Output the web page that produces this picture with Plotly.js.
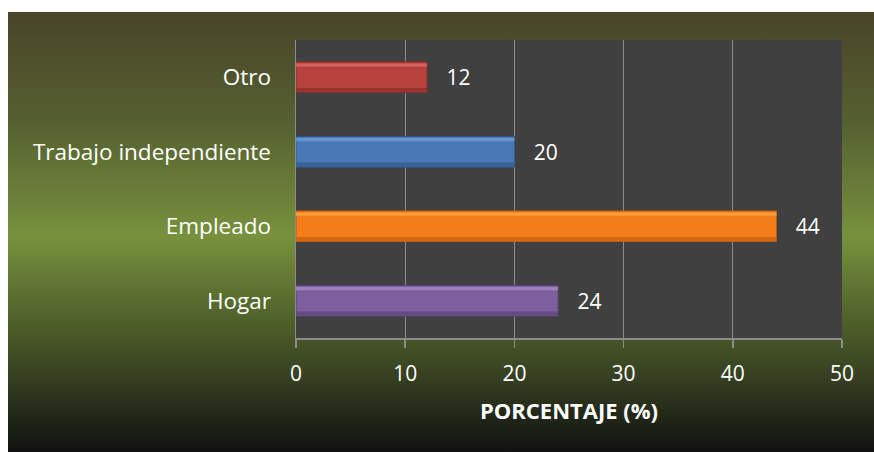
<!DOCTYPE html>
<html>
<head>
<meta charset="utf-8">
<script src="https://cdn.plot.ly/plotly-3.0.1.min.js"></script>
<style>
  html, body { margin: 0; padding: 0; background: #ffffff; width: 874px; height: 452px; overflow: hidden; }
  #chart {
    position: absolute; left: 8px; top: 12px; width: 866px; height: 440px;
    background: linear-gradient(to bottom, #4a4429 0%, #556030 25%, #77913d 51%, #4b5c28 72%, #363f22 83%, #1f2416 93%, #111111 100%);
  }
</style>
</head>
<body>
<div id="chart"></div>
<script>
// Data (bottom-to-top order as drawn on the category axis)
const categories = ['Hogar', 'Empleado', 'Trabajo independiente', 'Otro'];
const values = [24, 44, 20, 12];
const barColors = ['#7d5f9f', '#f37d18', '#4878b6', '#b8403d'];
const lightColors = ['#a58bc6', '#ffa545', '#6f9bd3', '#d86a66'];
const darkColors = ['#5a4378', '#c05d0c', '#325888', '#882c2a'];
const xTicks = [0, 10, 20, 30, 40, 50];
const xTitle = 'PORCENTAJE (%)';

const W = 0.41;
const FONT = 'Open Sans, sans-serif';

const mainBar = {
  type: 'bar', orientation: 'h',
  x: values, y: categories,
  width: W, offset: -W / 2,
  marker: { color: barColors, line: { color: darkColors, width: 1 } },
  text: values.map(v => '\u00a0\u00a0\u00a0' + v),
  textposition: 'outside',
  textfont: { family: FONT, size: 21, color: '#ffffff' },
  cliponaxis: false,
  hoverinfo: 'x+y', showlegend: false
};
const topStrip = {
  type: 'bar', orientation: 'h',
  x: values, y: categories,
  width: 0.045, offset: W / 2 - 0.065,
  marker: { color: lightColors, opacity: 0.8, line: { width: 0 } },
  hoverinfo: 'skip', showlegend: false
};
const bottomStrip = {
  type: 'bar', orientation: 'h',
  x: values, y: categories,
  width: 0.05, offset: -W / 2 + 0.01,
  marker: { color: darkColors, opacity: 0.7, line: { width: 0 } },
  hoverinfo: 'skip', showlegend: false
};

const layout = {
  width: 866, height: 440,
  margin: { l: 288, r: 32, t: 28, b: 114 },
  paper_bgcolor: 'rgba(0,0,0,0)',
  plot_bgcolor: '#404040',
  barmode: 'overlay',
  font: { family: FONT, color: '#ffffff', size: 21 },
  xaxis: {
    range: [0, 50], tickvals: xTicks, ticktext: xTicks.map(String),
    showgrid: true, gridcolor: '#8c8c8c', gridwidth: 1.3,
    zeroline: false,
    showline: true, linecolor: '#8c8c8c', linewidth: 1.5,
    ticks: 'outside', ticklen: 8, tickcolor: '#8c8c8c', tickwidth: 1.5,
    ticklabelstandoff: 8,
    tickfont: { family: FONT, size: 21, color: '#ffffff' },
    title: { text: xTitle, font: { family: FONT, size: 22, color: '#ffffff', weight: 'bold' }, standoff: 18 },
    fixedrange: true
  },
  yaxis: {
    type: 'category', categoryorder: 'array', categoryarray: categories,
    showgrid: false, zeroline: false,
    showline: true, linecolor: '#8c8c8c', linewidth: 1.5,
    ticks: '', ticklabelstandoff: 19,
    tickfont: { family: FONT, size: 22.5, color: '#ffffff' },
    fixedrange: true
  }
};

Plotly.newPlot('chart', [mainBar, bottomStrip, topStrip], layout, { displayModeBar: false, staticPlot: true });
</script>
</body>
</html>
